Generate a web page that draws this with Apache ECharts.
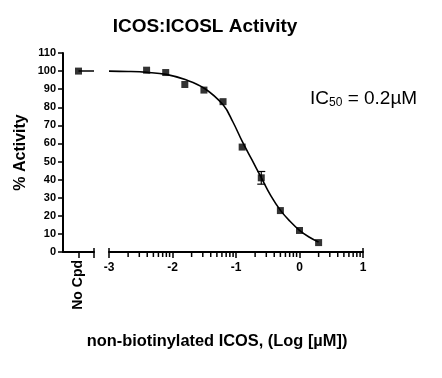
<!DOCTYPE html>
<html>
<head>
<meta charset="utf-8">
<script src="https://cdn.jsdelivr.net/npm/echarts@6/dist/echarts.min.js"></script>
<style>html,body{margin:0;padding:0;background:#fff;}#c{width:442px;height:378px;}</style>
</head>
<body>
<div id="c"></div>
<script>
// ---- data ----
const chartTitle = 'ICOS:ICOSL Activity';
const xTitle = 'non-biotinylated ICOS, (Log [\u00b5M])';
const yTitle = '% Activity';
const noCpdCategory = ['No Cpd'];
const noCpdValue = [100];
const logConc = [-2.408, -2.107, -1.806, -1.505, -1.204, -0.903, -0.602, -0.301, 0.0, 0.301];
const activity = [100.5, 99.2, 92.6, 89.5, 83.1, 58.0, 41.0, 22.9, 11.9, 5.2];
const activityErr = [0, 0, 0, 0, 0, 0, 3.5, 0, 0, 0];
const fitX = [-3.0, -2.7, -2.4, -2.1, -1.8, -1.5, -1.2, -1.05, -0.9, -0.75, -0.6, -0.45, -0.3, -0.15, 0.0, 0.15, 0.3];
const fitY = [100, 99.8, 99.3, 98.2, 95.3, 90.5, 81.2, 72.0, 61.0, 51.0, 41.0, 31.0, 23.0, 17.0, 12.0, 8.3, 5.5];
const yTickValues = [0, 10, 20, 30, 40, 50, 60, 70, 80, 90, 100, 110];
const xMajorTicks = [-3, -2, -1, 0, 1];
const ic50Text = { pre: 'IC', sub: '50', post: ' = 0.2\u00b5M' };

// minor log ticks (axis decoration)
const xMinorTicks = [];
for (let d = -3; d < 1; d++) for (let k = 2; k <= 9; k++) xMinorTicks.push(d + Math.log10(k));

const FONT = "'Liberation Sans', Arial, sans-serif";
const black = '#000';
const chart = echarts.init(document.getElementById('c'));

const gridTop = 53, gridH = 199;
const axisLineStyle = { color: black, width: 2 };
const tickStyle = { color: black, width: 1.5 };

// custom series drawing extra axis ticks through the axis scale
function tickSeries(xi, yi, values, down, up) {
  return { type: 'custom', xAxisIndex: xi, yAxisIndex: yi, clip: false, z: 5,
    data: values.map(v => [v, 0]),
    renderItem: function (params, api) {
      const p = api.coord([api.value(0), 0]);
      return { type: 'group', children: [
        { type: 'line', shape: { x1: p[0], y1: p[1] - up, x2: p[0], y2: p[1] + down },
          style: { stroke: black, lineWidth: 1.5 } }
      ] };
    } };
}

const option = {
  animation: false,
  backgroundColor: '#fff',
  title: [
    { text: chartTitle, left: 200, top: 12, textAlign: 'center',
      textStyle: { fontFamily: FONT, fontSize: 19, fontWeight: 'bold', color: black } },
    { text: '{a|' + ic50Text.pre + '}{b|' + ic50Text.sub + '}{a|' + ic50Text.post + '}', left: 305, top: 84,
      textStyle: { fontWeight: 'normal', rich: {
        a: { fontFamily: FONT, fontSize: 19, fontWeight: 'normal', color: black },
        b: { fontFamily: FONT, fontSize: 12, fontWeight: 'normal', color: black, verticalAlign: 'bottom', padding: [8, 0, 0, 0] }
      } } },
    { text: xTitle, left: 212, top: 328, textAlign: 'center',
      textStyle: { fontFamily: FONT, fontSize: 16.4, fontWeight: 'bold', color: black } }
  ],
  grid: [
    { left: 63, top: gridTop, width: 31, height: gridH },
    { left: 109, top: gridTop, width: 254, height: gridH }
  ],
  xAxis: [
    { // 0: No Cpd segment
      type: 'value', gridIndex: 0, min: 0, max: 2, interval: 1,
      axisLine: { onZero: false, lineStyle: axisLineStyle },
      axisTick: { length: 6, lineStyle: tickStyle, customValues: [1, 2] },
      axisLabel: { customValues: [1], rotate: 90, margin: 8, formatter: () => noCpdCategory[0],
        fontFamily: FONT, fontSize: 14, fontWeight: 'bold', color: black },
      splitLine: { show: false }
    },
    { // 1: main axis
      type: 'value', gridIndex: 1, min: -3, max: 1, interval: 1,
      axisLine: { onZero: false, lineStyle: axisLineStyle },
      axisTick: { length: 6, lineStyle: tickStyle, customValues: xMajorTicks },
      axisLabel: { customValues: xMajorTicks, margin: 10, fontFamily: FONT, fontSize: 12, fontWeight: 'bold', color: black },
      splitLine: { show: false }
    }
  ],
  yAxis: [
    { type: 'value', gridIndex: 0, min: 0, max: 110, interval: 10,
      name: yTitle, nameLocation: 'middle', nameRotate: 90, nameGap: 34,
      nameTextStyle: { fontFamily: FONT, fontSize: 16, fontWeight: 'bold', color: black },
      axisLine: { show: true, lineStyle: axisLineStyle },
      axisTick: { show: true, length: 5, lineStyle: tickStyle, customValues: yTickValues },
      axisLabel: { customValues: yTickValues, margin: 7, fontFamily: FONT, fontSize: 11, fontWeight: 'bold', color: black },
      splitLine: { show: false }
    },
    { type: 'value', gridIndex: 1, min: 0, max: 110, interval: 10, show: false, splitLine: { show: false } }
  ],
  series: [
    { type: 'line', xAxisIndex: 0, yAxisIndex: 0, data: [[1, noCpdValue[0]], [2, noCpdValue[0]]],
      symbol: 'none', lineStyle: { color: black, width: 1.5 } },
    { type: 'scatter', xAxisIndex: 0, yAxisIndex: 0, data: [[1, noCpdValue[0]]],
      symbol: 'rect', symbolSize: 7, itemStyle: { color: black } },
    { type: 'line', xAxisIndex: 1, yAxisIndex: 1, data: fitX.map((x, i) => [x, fitY[i]]),
      smooth: 0.4, symbol: 'none', lineStyle: { color: black, width: 1.6 } },
    { type: 'custom', xAxisIndex: 1, yAxisIndex: 1,
      data: logConc.map((x, i) => [x, activity[i], activityErr[i]]),
      renderItem: function (params, api) {
        const x = api.value(0), y = api.value(1), e = api.value(2);
        if (!e) return null;
        const top = api.coord([x, y + e]);
        const bot = api.coord([x, y - e]);
        const hw = 4;
        const st = { stroke: black, lineWidth: 1.2 };
        return { type: 'group', children: [
          { type: 'line', shape: { x1: top[0], y1: top[1], x2: bot[0], y2: bot[1] }, style: st },
          { type: 'line', shape: { x1: top[0] - hw, y1: top[1], x2: top[0] + hw, y2: top[1] }, style: st },
          { type: 'line', shape: { x1: bot[0] - hw, y1: bot[1], x2: bot[0] + hw, y2: bot[1] }, style: st }
        ] };
      }, z: 3 },
    { type: 'scatter', xAxisIndex: 1, yAxisIndex: 1, data: logConc.map((x, i) => [x, activity[i]]),
      symbol: 'rect', symbolSize: 7, itemStyle: { color: black }, z: 4 },
    tickSeries(1, 1, xMinorTicks, 5, 0),   // minor log ticks
    tickSeries(1, 1, [-3, 1], 0, 4),       // end caps (upper half) of main segment
    tickSeries(0, 0, [2], 0, 4)            // end cap of No Cpd segment
  ]
};
chart.setOption(option);
</script>
</body>
</html>
